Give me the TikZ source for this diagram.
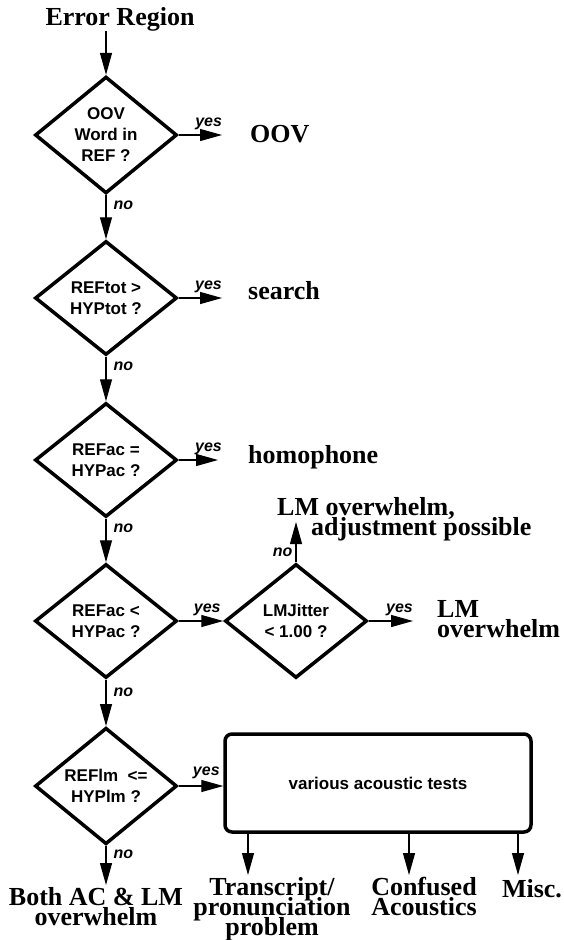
\documentclass[tikz,border=0pt]{standalone}
\usepackage{fontspec}
\setmainfont{Liberation Serif}
\setsansfont{Liberation Sans}
\usetikzlibrary{shapes.geometric,arrows.meta}

\tikzset{
  dec/.style={diamond,draw,line width=3.5pt,minimum width=142pt,minimum height=114pt,inner sep=0pt,align=center,
    font=\sffamily\bfseries\fontsize{17}{21}\selectfont},
  outc/.style={inner sep=0pt,align=center,font={\bfseries\fontsize{26}{20}\selectfont\lineskiplimit-100pt}},
  lbl/.style={inner sep=1pt,font=\sffamily\bfseries\itshape\fontsize{16}{16}\selectfont},
  arr/.style={line width=1.2pt,-{Triangle[length=22pt,width=12pt]}},
  testbox/.style={draw,line width=3.5pt,rounded corners=7pt,minimum width=306pt,minimum height=98pt,
    font=\sffamily\bfseries\fontsize{17}{21}\selectfont}
}

\begin{document}
\begin{tikzpicture}[x=1pt,y=-1pt]
\useasboundingbox (0,0) rectangle (564,940);

\node[outc,anchor=base] (start) at (120,25) {Error Region};

\node[dec] (d1) at (106,135) {OOV\\Word in\\REF ?};
\node[dec] (d2) at (106,298) {REFtot >\\HYPtot ?};
\node[dec] (d3) at (106,460) {REFac =\\HYPac ?};
\node[dec] (d4) at (106,621) {REFac <\\HYPac ?};
\node[dec] (d5) at (296,621) {LMJitter\\< 1.00 ?};
\node[dec] (d6) at (106,786) {REFlm\ \ <=\\HYPlm ?};
\node[testbox] (tests) at (378,783) {various acoustic tests};

\node[outc,anchor=base west] (oov) at (250,142) {OOV};
\node[outc,anchor=base west] (srch) at (248,299) {search};
\node[outc,anchor=base west] (homo) at (248,463) {homophone};
\node[outc,anchor=base west,align=left] (lmadj) at (277,535) {LM overwhelm,\\\hspace*{34pt}adjustment possible};
\node[outc,anchor=base west,align=left] (lmo) at (437,637) {LM\\overwhelm};
\node[outc,anchor=base] (both) at (96,925) {Both AC \& LM\\overwhelm};
\node[outc,anchor=base] (trans) at (272,935) {Transcript/\\pronunciation\\problem};
\node[outc,anchor=base] (conf) at (424,915) {Confused\\Acoustics};
\node[outc,anchor=base] (misc) at (532,897) {Misc.};

\coordinate (adjtip) at (296,522);
\coordinate (bothtip) at (106,885);
\coordinate (t1) at (248,875);
\coordinate (t2) at (409,875);
\coordinate (t3) at (518,875);

\draw[arr] (start.south -| d1.north)--(d1.north);
\draw[arr] (d1.south)--node[lbl,right=6pt,pos=0.22]{no}(d2.north);
\draw[arr] (d2.south)--node[lbl,right=6pt,pos=0.22]{no}(d3.north);
\draw[arr] (d3.south)--node[lbl,right=6pt,pos=0.22]{no}(d4.north);
\draw[arr] (d4.south)--node[lbl,right=6pt,pos=0.28]{no}(d6.north);
\draw[arr] (d6.south)--node[lbl,right=6pt,pos=0.22]{no}(bothtip);

\draw[arr,shorten >=28pt] (d1.east)--node[lbl,above=4pt,pos=0.42]{yes}(d1.east -| oov.west);
\draw[arr,shorten >=26pt] (d2.east)--node[lbl,above=4pt,pos=0.43]{yes}(d2.east -| srch.west);
\draw[arr,shorten >=30pt] (d3.east)--node[lbl,above=4pt,pos=0.43]{yes}(d3.east -| homo.west);
\draw[arr] (d4.east)--node[lbl,above=4pt,pos=0.64]{yes}(d5.west);
\draw[arr,shorten >=24pt] (d5.east)--node[lbl,above=4pt,pos=0.45]{yes}(d5.east -| lmo.west);
\draw[arr] (d5.north)--node[lbl,left=2pt,pos=0.25]{no}(adjtip);
\draw[arr] (d6.east)--node[lbl,above=6pt,pos=0.62]{yes}(d6.east -| tests.west);

\draw[arr] (tests.south -| t1)--(t1);
\draw[arr] (tests.south -| t2)--(t2);
\draw[arr] (tests.south -| t3)--(t3);
\end{tikzpicture}
\end{document}
